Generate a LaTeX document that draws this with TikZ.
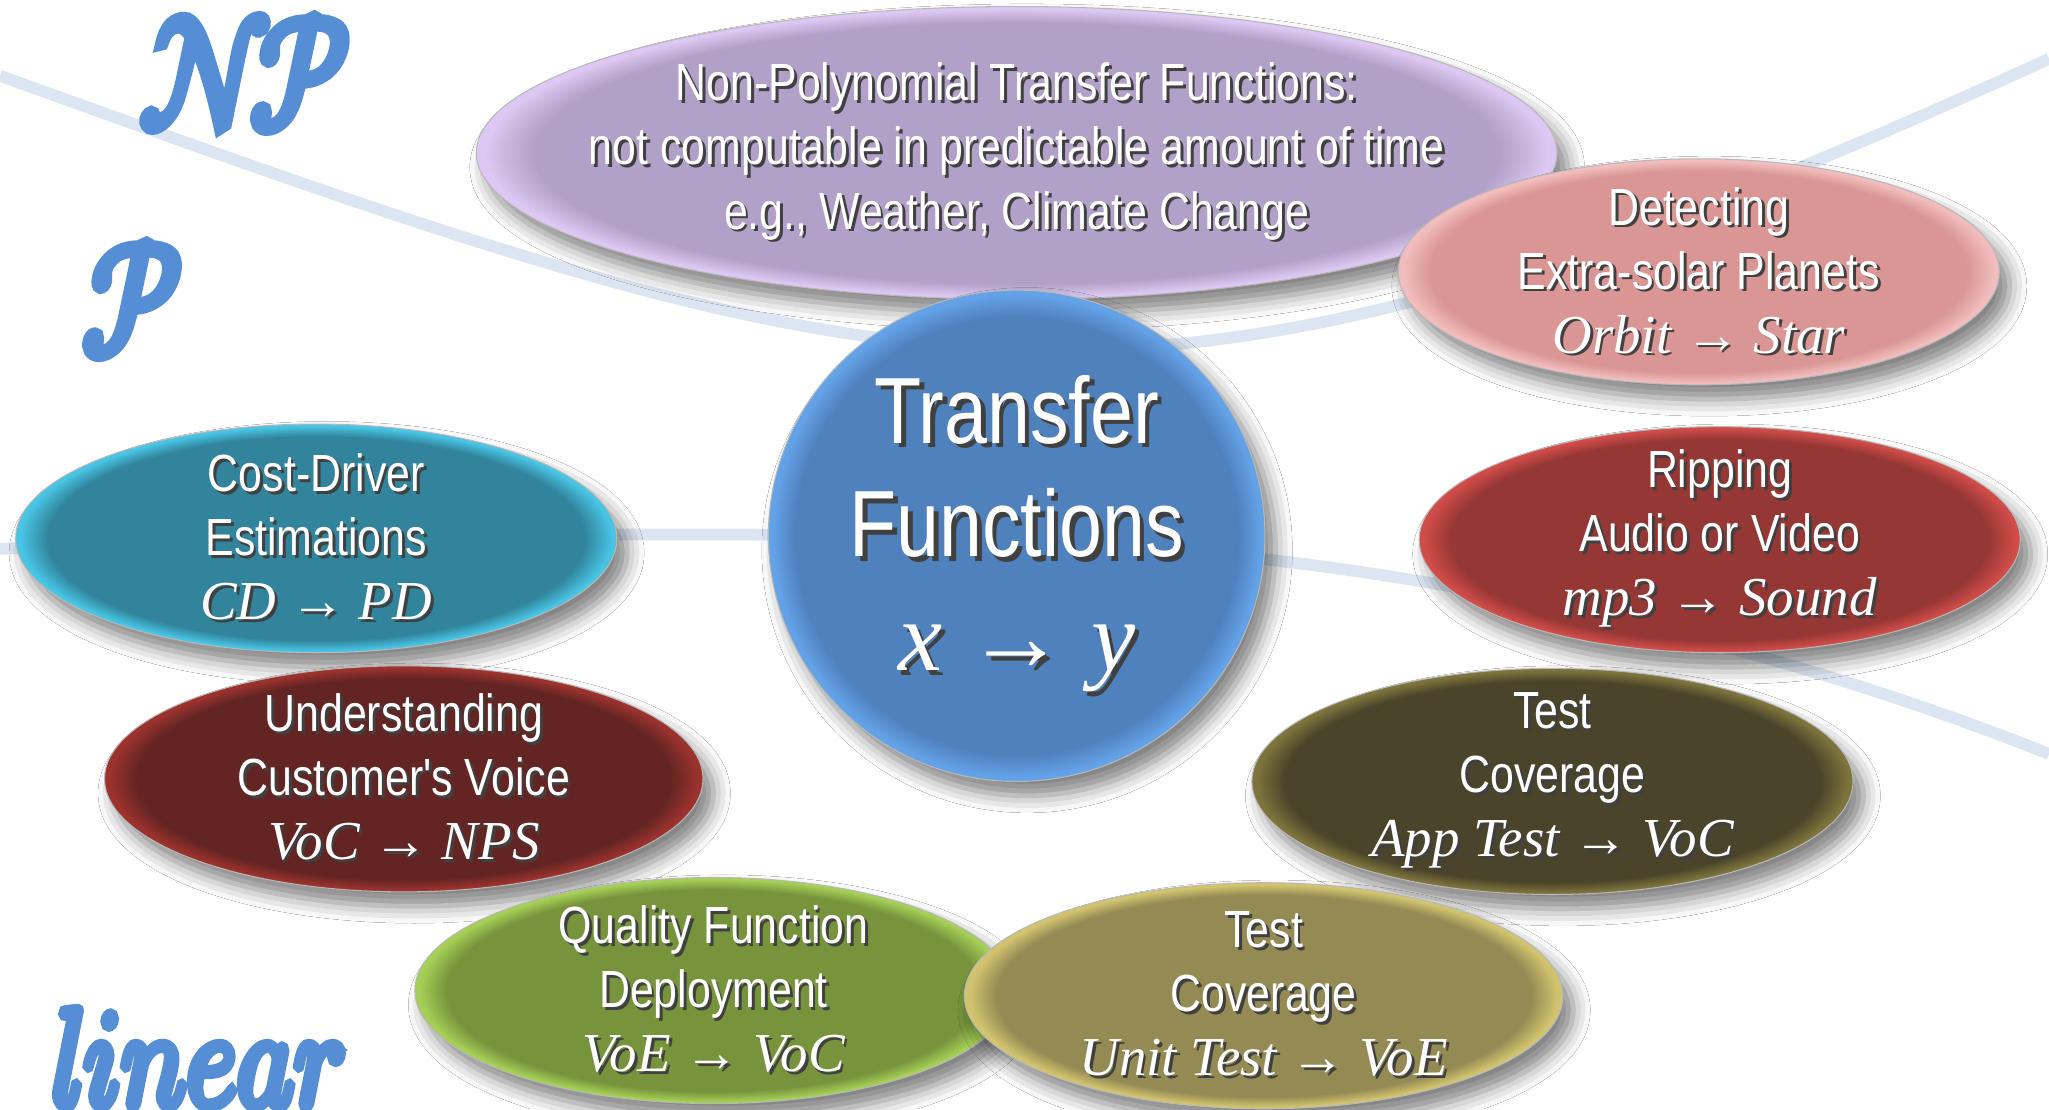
\documentclass[tikz,border=0pt]{standalone}
\usepackage{graphicx}
\usepackage{fontspec}
\usetikzlibrary{shapes.geometric,shadows.blur}

\newfontfamily\condfont{Liberation Sans}[FakeStretch=0.82]
\newfontfamily\mathfontfam{Liberation Serif}
\newfontfamily\brushfont{latinmodern-math.otf}[FakeBold=8]

% palette
\definecolor{bandcol}{HTML}{DCE6F2}
\definecolor{scriptblue}{HTML}{558ED5}
\definecolor{lavmain}{HTML}{B1A0C7}\definecolor{lavrim}{HTML}{DCC8F2}
\definecolor{pinkmain}{HTML}{D99694}\definecolor{pinkrim}{HTML}{F2BDBD}
\definecolor{bluemain}{HTML}{4F81BD}\definecolor{bluerim}{HTML}{64A2E8}
\definecolor{tealmain}{HTML}{31849B}\definecolor{tealrim}{HTML}{48C4E4}
\definecolor{redmain}{HTML}{953735}\definecolor{redrim}{HTML}{CF4C48}
\definecolor{maroonmain}{HTML}{632523}\definecolor{maroonrim}{HTML}{9C322E}
\definecolor{olivemain}{HTML}{4A452A}\definecolor{oliverim}{HTML}{7D733C}
\definecolor{greenmain}{HTML}{77933C}\definecolor{greenrim}{HTML}{A5CF56}
\definecolor{khakimain}{HTML}{948A54}\definecolor{khakirim}{HTML}{D2C46E}

% flat fill with a light rim just inside the outline
\colorlet{bubmain}{gray}
\colorlet{bubrim}{white}
\pgfdeclareradialshading[bubmain,bubrim]{bubble}{\pgfpointorigin}{%
  color(0bp)=(bubmain); color(22.3bp)=(bubmain); color(24.6bp)=(bubrim);
  color(25bp)=(bubrim); color(50bp)=(bubrim)}

% white text with a dark drop shadow
\newcommand\tsh[1]{\leavevmode\rlap{\kern2.2pt\raisebox{-2.2pt}{\color{black!75}#1}}#1}
\newcommand\tshbig[1]{\leavevmode\rlap{\kern3.5pt\raisebox{-3.5pt}{\color{black!75}#1}}#1}
\newcommand\mth[1]{{\mathfontfam\itshape\fontsize{42}{49}\selectfont #1}}

\begin{document}
\begin{tikzpicture}[x=1pt,y=-1pt,
  bub/.style n args={4}{ellipse, minimum width=#1, minimum height=#2, inner sep=0pt,
    /utils/exec={\colorlet{bubmain}{#3}\colorlet{bubrim}{#4}},
    shade, shading=bubble, draw=black!28, line width=0.8pt,
    blur shadow={shadow xshift=8pt, shadow yshift=-11pt,
                 shadow blur radius=13pt, shadow opacity=50}},
  txt/.style={text=white, align=center, inner sep=0pt,
    font=\condfont\fontsize{40}{49}\selectfont},
  bigtxt/.style={text=white, align=center, inner sep=0pt,
    font=\condfont\fontsize{72}{87}\selectfont},
  band/.style={draw=bandcol, line width=9pt},
  brush/.style={text=scriptblue, inner sep=0pt, font=\brushfont}]

\fill[white] (0,0) rectangle (1568,849);
\useasboundingbox (0,0) rectangle (1568,849);

% complexity boundaries
\coordinate (npL) at (0,58);
\coordinate (npR) at (1568,45);
\coordinate (linL) at (0,420);
\coordinate (linM) at (700,410);
\coordinate (linR) at (1568,577);
\draw[band] (npL) .. controls (705,312) and (863,367) .. (npR);
\draw[band] (linL) .. controls (300,408) and (500,408) .. (linM)
                   .. controls (1000,415) and (1300,470) .. (linR);

% class labels
\node[brush] (np) at (187,56) {\scalebox{10}[12]{𝒩\kern-1.6pt𝒫}};
\node[brush] (p) at (101,229) {\scalebox{10}[12]{𝒫}};
\node[brush, anchor=base] (lin) at (151,846) {\scalebox{8.3}[10.6]{𝑙𝑖𝑛𝑒𝑎𝑟}};

% bubbles
\node[bub={827pt}{224pt}{lavmain}{lavrim},
  label={[txt]center:{\tsh{Non-Polynomial Transfer Functions:}\\
    \tsh{not computable in predictable amount of time}\\
    \tsh{e.g., Weather, Climate Change}}}] (npf) at (778,117) {};

\node[bub={460pt}{173pt}{pinkmain}{pinkrim},
  label={[txt]center:{\tsh{Detecting}\\\tsh{Extra-solar Planets}\\
    \tsh{\mth{Orbit → Star}}}}] (exo) at (1300,208) {};

\node[bub={380pt}{376pt}{bluemain}{bluerim},
  label={[bigtxt]center:{\tshbig{Transfer}\\\tshbig{Functions}\\
    \tshbig{\mathfontfam\itshape\fontsize{76}{87}\selectfont x → y}}}] (tf) at (778,410) {};

\node[bub={460pt}{175pt}{tealmain}{tealrim},
  label={[txt]center:{\tsh{Cost-Driver}\\\tsh{Estimations}\\
    \tsh{\mth{CD → PD}}}}] (cd) at (242,412) {};

\node[bub={460pt}{173pt}{redmain}{redrim},
  label={[txt]center:{\tsh{Ripping}\\\tsh{Audio or Video}\\
    \tsh{\mth{mp3 → Sound}}}}] (rip) at (1316,413) {};

\node[bub={458pt}{173pt}{maroonmain}{maroonrim},
  label={[txt]center:{\tsh{Understanding}\\\tsh{Customer's Voice}\\
    \tsh{\mth{VoC → NPS}}}}] (voc) at (309,596) {};

\node[bub={460pt}{173pt}{olivemain}{oliverim},
  label={[txt]center:{\tsh{Test}\\\tsh{Coverage}\\
    \tsh{\mth{App Test → VoC}}}}] (app) at (1188,598) {};

\node[bub={457pt}{173pt}{greenmain}{greenrim},
  label={[txt]center:{\tsh{Quality Function}\\\tsh{Deployment}\\
    \tsh{\mth{VoE → VoC}}}}] (qfd) at (546,758) {};

\node[bub={458pt}{173pt}{khakimain}{khakirim},
  label={[txt]center:{\tsh{Test}\\\tsh{Coverage}\\
    \tsh{\mth{Unit Test → VoE}}}}] (unit) at (967,762) {};

\end{tikzpicture}
\end{document}
